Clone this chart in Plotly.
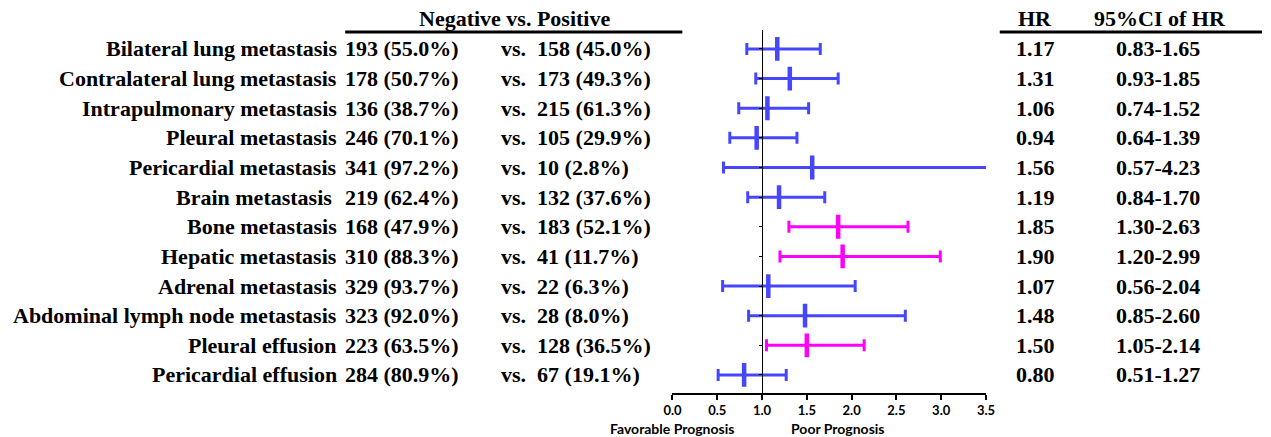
import plotly.graph_objects as go

labels = ["Bilateral lung metastasis", "Contralateral lung metastasis", "Intrapulmonary metastasis",
          "Pleural metastasis", "Pericardial metastasis", "Brain metastasis ", "Bone metastasis",
          "Hepatic metastasis", "Adrenal metastasis", "Abdominal lymph node metastasis",
          "Pleural effusion", "Pericardial effusion"]
neg_n = [193, 178, 136, 246, 341, 219, 168, 310, 329, 323, 223, 284]
neg_pct = ["55.0", "50.7", "38.7", "70.1", "97.2", "62.4", "47.9", "88.3", "93.7", "92.0", "63.5", "80.9"]
pos_n = [158, 173, 215, 105, 10, 132, 183, 41, 22, 28, 128, 67]
pos_pct = ["45.0", "49.3", "61.3", "29.9", "2.8", "37.6", "52.1", "11.7", "6.3", "8.0", "36.5", "19.1"]
hr = [1.17, 1.31, 1.06, 0.94, 1.56, 1.19, 1.85, 1.90, 1.07, 1.48, 1.50, 0.80]
ci_lo = [0.83, 0.93, 0.74, 0.64, 0.57, 0.84, 1.30, 1.20, 0.56, 0.85, 1.05, 0.51]
ci_hi = [1.65, 1.85, 1.52, 1.39, 4.23, 1.70, 2.63, 2.99, 2.04, 2.60, 2.14, 1.27]
significant = [False, False, False, False, False, False, True, True, False, False, True, False]
x_ticks = [0.0, 0.5, 1.0, 1.5, 2.0, 2.5, 3.0, 3.5]

W, H = 1271, 437
PLOT_L, PLOT_R, PLOT_T, PLOT_B = 673, 991, 30, 393
BLUE = "#4646FF"
MAG = "#FF00FF"
SERIF = "Liberation Serif"
FS = 22

n = len(labels)
ypos = [n - i for i in range(n)]  # row 1 at top

def px(x):
    return x / W

def py(y):
    return (PLOT_B - y) / (PLOT_B - PLOT_T)

fig = go.Figure()
for sig, col in [(False, BLUE), (True, MAG)]:
    idx = [i for i in range(n) if significant[i] == sig]
    fig.add_trace(go.Scatter(
        x=[hr[i] for i in idx], y=[ypos[i] for i in idx], mode="markers",
        marker=dict(symbol="line-ns", size=17, color=col, line=dict(width=4.5, color=col)),
        error_x=dict(type="data", symmetric=False,
                     array=[ci_hi[i] - hr[i] for i in idx],
                     arrayminus=[hr[i] - ci_lo[i] for i in idx],
                     color=col, thickness=3, width=6),
        showlegend=False, cliponaxis=True, hoverinfo="skip"))

ann = []
tfont = dict(family=SERIF, size=FS, color="black", weight="bold")
for i in range(n):
    lab = labels[i].rstrip()
    if labels[i].endswith(" "):
        lab = lab + "\u00a0"
    ann.append(dict(x=px(335), y=ypos[i], xref="paper", yref="y", text=lab, showarrow=False,
                    xanchor="right", yanchor="middle", font=tfont))
    ann.append(dict(x=px(339), y=ypos[i], xref="paper", yref="y",
                    text=f"{neg_n[i]} ({neg_pct[i]}%)", showarrow=False,
                    xanchor="left", yanchor="middle", font=tfont))
    ann.append(dict(x=px(497), y=ypos[i], xref="paper", yref="y",
                    text=f"vs.\u00a0\u00a0{pos_n[i]} ({pos_pct[i]}%)", showarrow=False,
                    xanchor="left", yanchor="middle", font=tfont))
    ann.append(dict(x=px(1041), y=ypos[i], xref="paper", yref="y", text=f"{hr[i]:.2f}",
                    showarrow=False, xanchor="center", yanchor="middle", font=tfont))
    ann.append(dict(x=px(1166), y=ypos[i], xref="paper", yref="y",
                    text=f"{ci_lo[i]:.2f}-{ci_hi[i]:.2f}",
                    showarrow=False, xanchor="center", yanchor="middle", font=tfont))

# headers
ann.append(dict(x=px(513), y=py(18), xref="paper", yref="paper", text="Negative vs. Positive",
                showarrow=False, xanchor="center", yanchor="middle", font=tfont))
ann.append(dict(x=px(1041), y=py(18), xref="paper", yref="paper", text="HR",
                showarrow=False, xanchor="center", yanchor="middle", font=tfont))
ann.append(dict(x=px(1168), y=py(18), xref="paper", yref="paper", text="95%CI of HR",
                showarrow=False, xanchor="center", yanchor="middle", font=tfont))
sfont = dict(family="Lato", size=14, color="black", weight="bold")
ann.append(dict(x=px(673), y=py(428), xref="paper", yref="paper", text="Favorable Prognosis",
                showarrow=False, xanchor="center", yanchor="middle", font=sfont))
ann.append(dict(x=px(841), y=py(428), xref="paper", yref="paper", text="Poor Prognosis",
                showarrow=False, xanchor="center", yanchor="middle", font=sfont))

shapes = [
    dict(type="line", xref="paper", yref="paper", x0=px(341), x1=px(683), y0=py(32), y1=py(32),
         line=dict(color="black", width=3)),
    dict(type="line", xref="paper", yref="paper", x0=px(1005), x1=1.0, y0=py(32), y1=py(32),
         line=dict(color="black", width=3)),
]

xd0, xd1 = px(PLOT_L), px(PLOT_R)
xr = [x_ticks[0], x_ticks[-1]]
ypos_axis = xd0 + (1.0 - xr[0]) / (xr[1] - xr[0]) * (xd1 - xd0)

fig.update_layout(
    width=W, height=H, margin=dict(l=0, r=0, t=PLOT_T, b=H - PLOT_B),
    paper_bgcolor="white", plot_bgcolor="white",
    annotations=ann, shapes=shapes,
    xaxis=dict(domain=[xd0, xd1], range=xr, tickvals=x_ticks,
               ticktext=[f"{v:.1f}" for v in x_ticks], showgrid=False, zeroline=False,
               showline=True, linecolor="black", linewidth=1.5, ticks="outside",
               ticklen=5, tickwidth=1.5, tickcolor="black",
               tickfont=dict(family="Lato", size=13, color="black", weight="bold")),
    yaxis=dict(range=[0.39, n + 0.64], anchor="free", position=ypos_axis, showgrid=False,
               zeroline=False, showline=True, linecolor="black", linewidth=1.3,
               ticks="outside", ticklen=3, tickwidth=1, tickcolor="black",
               tickvals=ypos, showticklabels=False),
)

fig.write_html("out.html", config={"displayModeBar": False},
               post_script="document.body.style.margin='0';document.body.style.overflow='hidden';")
